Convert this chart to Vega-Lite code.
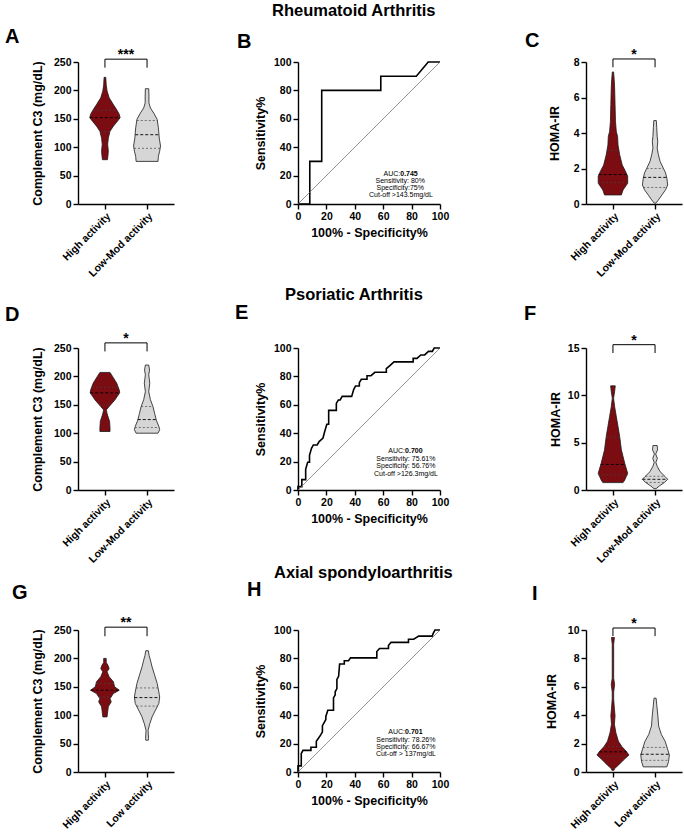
{
"$schema":"https://vega.github.io/schema/vega-lite/v6.json",
"background":"white",
"padding":{"left":5,"top":2,"right":2,"bottom":2},
"config":{
 "font":"Liberation Sans",
 "view":{"stroke":null},
 "axis":{"labelFont":"Liberation Sans","labelFontWeight":"bold","labelFontSize":10.5,"labelColor":"#000","titleFont":"Liberation Sans","titleFontWeight":"bold","titleFontSize":12.5,"titleColor":"#000","domainColor":"#000","domainWidth":1.4,"tickColor":"#000","tickWidth":1.4,"tickSize":5,"grid":false,"labelFlush":false,"labelOverlap":false,"labelPadding":2,"titlePadding":6},
 "title":{"font":"Liberation Sans","fontWeight":"bold","color":"#000"}
},
"datasets":{
"violin":[
{"p":"A","g":"High","v":78,"lo":0.94,"hi":1.06},{"p":"A","g":"High","v":84,"lo":0.93,"hi":1.07},{"p":"A","g":"High","v":93,"lo":0.92,"hi":1.08},{"p":"A","g":"High","v":105,"lo":0.935,"hi":1.065},{"p":"A","g":"High","v":116,"lo":0.92,"hi":1.08},{"p":"A","g":"High","v":128,"lo":0.88,"hi":1.12},{"p":"A","g":"High","v":137,"lo":0.8,"hi":1.2},{"p":"A","g":"High","v":146,"lo":0.7,"hi":1.3},{"p":"A","g":"High","v":152,"lo":0.64,"hi":1.36},{"p":"A","g":"High","v":158,"lo":0.66,"hi":1.34},{"p":"A","g":"High","v":166,"lo":0.72,"hi":1.28},{"p":"A","g":"High","v":175,"lo":0.8,"hi":1.2},{"p":"A","g":"High","v":187,"lo":0.9,"hi":1.1},{"p":"A","g":"High","v":199,"lo":0.95,"hi":1.05},{"p":"A","g":"High","v":210,"lo":0.97,"hi":1.03},{"p":"A","g":"High","v":223,"lo":0.98,"hi":1.02},
{"p":"A","g":"Low","v":75,"lo":1.74,"hi":2.26},{"p":"A","g":"Low","v":84,"lo":1.73,"hi":2.27},{"p":"A","g":"Low","v":93,"lo":1.7,"hi":2.3},{"p":"A","g":"Low","v":102,"lo":1.68,"hi":2.32},{"p":"A","g":"Low","v":116,"lo":1.71,"hi":2.29},{"p":"A","g":"Low","v":134,"lo":1.73,"hi":2.27},{"p":"A","g":"Low","v":149,"lo":1.76,"hi":2.24},{"p":"A","g":"Low","v":160,"lo":1.84,"hi":2.16},{"p":"A","g":"Low","v":169,"lo":1.92,"hi":2.08},{"p":"A","g":"Low","v":178,"lo":1.955,"hi":2.045},{"p":"A","g":"Low","v":190,"lo":1.955,"hi":2.045},{"p":"A","g":"Low","v":203,"lo":1.96,"hi":2.04},
{"p":"C","g":"High","v":0.51,"lo":0.8,"hi":1.2},{"p":"C","g":"High","v":0.79,"lo":0.76,"hi":1.24},{"p":"C","g":"High","v":1.17,"lo":0.65,"hi":1.35},{"p":"C","g":"High","v":1.56,"lo":0.65,"hi":1.35},{"p":"C","g":"High","v":1.83,"lo":0.7,"hi":1.3},{"p":"C","g":"High","v":2.2,"lo":0.78,"hi":1.22},{"p":"C","g":"High","v":2.77,"lo":0.84,"hi":1.16},{"p":"C","g":"High","v":3.33,"lo":0.88,"hi":1.12},{"p":"C","g":"High","v":3.8,"lo":0.89,"hi":1.11},{"p":"C","g":"High","v":4.08,"lo":0.92,"hi":1.08},{"p":"C","g":"High","v":4.65,"lo":0.94,"hi":1.06},{"p":"C","g":"High","v":5.6,"lo":0.95,"hi":1.05},{"p":"C","g":"High","v":6.53,"lo":0.96,"hi":1.04},{"p":"C","g":"High","v":7.0,"lo":0.97,"hi":1.03},{"p":"C","g":"High","v":7.44,"lo":0.985,"hi":1.015},
{"p":"C","g":"Low","v":0.05,"lo":1.98,"hi":2.02},{"p":"C","g":"Low","v":0.23,"lo":1.92,"hi":2.08},{"p":"C","g":"Low","v":0.5,"lo":1.84,"hi":2.16},{"p":"C","g":"Low","v":0.8,"lo":1.75,"hi":2.25},{"p":"C","g":"Low","v":1.07,"lo":1.7,"hi":2.3},{"p":"C","g":"Low","v":1.45,"lo":1.72,"hi":2.28},{"p":"C","g":"Low","v":1.75,"lo":1.75,"hi":2.25},{"p":"C","g":"Low","v":2.0,"lo":1.8,"hi":2.2},{"p":"C","g":"Low","v":2.4,"lo":1.88,"hi":2.12},{"p":"C","g":"Low","v":2.77,"lo":1.92,"hi":2.08},{"p":"C","g":"Low","v":3.15,"lo":1.95,"hi":2.05},{"p":"C","g":"Low","v":3.5,"lo":1.935,"hi":2.065},{"p":"C","g":"Low","v":3.82,"lo":1.95,"hi":2.05},{"p":"C","g":"Low","v":4.3,"lo":1.96,"hi":2.04},{"p":"C","g":"Low","v":4.7,"lo":1.97,"hi":2.03},
{"p":"D","g":"High","v":103,"lo":0.88,"hi":1.12},{"p":"D","g":"High","v":109,"lo":0.88,"hi":1.12},{"p":"D","g":"High","v":121,"lo":0.89,"hi":1.11},{"p":"D","g":"High","v":132,"lo":0.94,"hi":1.06},{"p":"D","g":"High","v":141,"lo":0.97,"hi":1.03},{"p":"D","g":"High","v":147,"lo":0.9,"hi":1.1},{"p":"D","g":"High","v":159,"lo":0.76,"hi":1.24},{"p":"D","g":"High","v":171,"lo":0.65,"hi":1.35},{"p":"D","g":"High","v":176,"lo":0.66,"hi":1.34},{"p":"D","g":"High","v":188,"lo":0.72,"hi":1.28},{"p":"D","g":"High","v":200,"lo":0.82,"hi":1.18},{"p":"D","g":"High","v":207,"lo":0.88,"hi":1.12},
{"p":"D","g":"Low","v":100,"lo":1.74,"hi":2.26},{"p":"D","g":"Low","v":106,"lo":1.7,"hi":2.3},{"p":"D","g":"Low","v":112,"lo":1.72,"hi":2.28},{"p":"D","g":"Low","v":123,"lo":1.78,"hi":2.22},{"p":"D","g":"Low","v":135,"lo":1.82,"hi":2.18},{"p":"D","g":"Low","v":147,"lo":1.86,"hi":2.14},{"p":"D","g":"Low","v":159,"lo":1.92,"hi":2.08},{"p":"D","g":"Low","v":173,"lo":1.96,"hi":2.04},{"p":"D","g":"Low","v":188,"lo":1.935,"hi":2.065},{"p":"D","g":"Low","v":203,"lo":1.96,"hi":2.04},{"p":"D","g":"Low","v":211,"lo":1.94,"hi":2.06},{"p":"D","g":"Low","v":220,"lo":1.96,"hi":2.04},
{"p":"F","g":"High","v":0.78,"lo":0.76,"hi":1.24},{"p":"F","g":"High","v":1.06,"lo":0.72,"hi":1.28},{"p":"F","g":"High","v":1.76,"lo":0.65,"hi":1.35},{"p":"F","g":"High","v":2.82,"lo":0.72,"hi":1.28},{"p":"F","g":"High","v":4.24,"lo":0.8,"hi":1.2},{"p":"F","g":"High","v":5.65,"lo":0.84,"hi":1.16},{"p":"F","g":"High","v":6.7,"lo":0.88,"hi":1.12},{"p":"F","g":"High","v":7.76,"lo":0.92,"hi":1.08},{"p":"F","g":"High","v":8.8,"lo":0.96,"hi":1.04},{"p":"F","g":"High","v":9.7,"lo":0.985,"hi":1.015},{"p":"F","g":"High","v":10.4,"lo":0.96,"hi":1.04},{"p":"F","g":"High","v":11.0,"lo":0.945,"hi":1.055},
{"p":"F","g":"Low","v":0.14,"lo":1.975,"hi":2.025},{"p":"F","g":"Low","v":0.42,"lo":1.9,"hi":2.1},{"p":"F","g":"Low","v":0.78,"lo":1.78,"hi":2.22},{"p":"F","g":"Low","v":1.13,"lo":1.7,"hi":2.3},{"p":"F","g":"Low","v":1.41,"lo":1.76,"hi":2.24},{"p":"F","g":"Low","v":1.94,"lo":1.88,"hi":2.12},{"p":"F","g":"Low","v":2.47,"lo":1.945,"hi":2.055},{"p":"F","g":"Low","v":2.9,"lo":1.98,"hi":2.02},{"p":"F","g":"Low","v":3.35,"lo":1.945,"hi":2.055},{"p":"F","g":"Low","v":3.8,"lo":1.985,"hi":2.015},{"p":"F","g":"Low","v":4.24,"lo":1.94,"hi":2.06},{"p":"F","g":"Low","v":4.7,"lo":1.95,"hi":2.05},
{"p":"G","g":"High","v":97,"lo":0.95,"hi":1.05},{"p":"G","g":"High","v":106,"lo":0.935,"hi":1.065},{"p":"G","g":"High","v":115,"lo":0.92,"hi":1.08},{"p":"G","g":"High","v":123.5,"lo":0.85,"hi":1.15},{"p":"G","g":"High","v":129,"lo":0.88,"hi":1.12},{"p":"G","g":"High","v":138,"lo":0.8,"hi":1.2},{"p":"G","g":"High","v":144,"lo":0.66,"hi":1.34},{"p":"G","g":"High","v":150,"lo":0.77,"hi":1.23},{"p":"G","g":"High","v":159,"lo":0.8,"hi":1.2},{"p":"G","g":"High","v":167.6,"lo":0.9,"hi":1.1},{"p":"G","g":"High","v":176.5,"lo":0.95,"hi":1.05},{"p":"G","g":"High","v":182,"lo":0.9,"hi":1.1},{"p":"G","g":"High","v":188,"lo":0.93,"hi":1.07},{"p":"G","g":"High","v":193,"lo":0.97,"hi":1.03},{"p":"G","g":"High","v":200,"lo":0.97,"hi":1.03},
{"p":"G","g":"Low","v":56,"lo":1.97,"hi":2.03},{"p":"G","g":"Low","v":59,"lo":1.965,"hi":2.035},{"p":"G","g":"Low","v":73.5,"lo":1.975,"hi":2.025},{"p":"G","g":"Low","v":85,"lo":1.935,"hi":2.065},{"p":"G","g":"Low","v":97,"lo":1.88,"hi":2.12},{"p":"G","g":"Low","v":109,"lo":1.8,"hi":2.2},{"p":"G","g":"Low","v":120.6,"lo":1.72,"hi":2.28},{"p":"G","g":"Low","v":132,"lo":1.7,"hi":2.3},{"p":"G","g":"Low","v":141,"lo":1.72,"hi":2.28},{"p":"G","g":"Low","v":156,"lo":1.76,"hi":2.24},{"p":"G","g":"Low","v":170.6,"lo":1.82,"hi":2.18},{"p":"G","g":"Low","v":185,"lo":1.88,"hi":2.12},{"p":"G","g":"Low","v":197,"lo":1.92,"hi":2.08},{"p":"G","g":"Low","v":205,"lo":1.95,"hi":2.05},{"p":"G","g":"Low","v":213.5,"lo":1.97,"hi":2.03},
{"p":"I","g":"High","v":0.12,"lo":0.975,"hi":1.025},{"p":"I","g":"High","v":0.24,"lo":0.96,"hi":1.04},{"p":"I","g":"High","v":0.48,"lo":0.87,"hi":1.13},{"p":"I","g":"High","v":0.84,"lo":0.75,"hi":1.25},{"p":"I","g":"High","v":1.2,"lo":0.62,"hi":1.38},{"p":"I","g":"High","v":1.44,"lo":0.68,"hi":1.32},{"p":"I","g":"High","v":1.8,"lo":0.79,"hi":1.21},{"p":"I","g":"High","v":2.16,"lo":0.87,"hi":1.13},{"p":"I","g":"High","v":2.76,"lo":0.93,"hi":1.07},{"p":"I","g":"High","v":3.36,"lo":0.965,"hi":1.035},{"p":"I","g":"High","v":3.96,"lo":0.95,"hi":1.05},{"p":"I","g":"High","v":4.44,"lo":0.965,"hi":1.035},{"p":"I","g":"High","v":5.16,"lo":0.983,"hi":1.017},{"p":"I","g":"High","v":5.64,"lo":0.983,"hi":1.017},{"p":"I","g":"High","v":6.16,"lo":0.96,"hi":1.04},{"p":"I","g":"High","v":6.6,"lo":0.983,"hi":1.017},{"p":"I","g":"High","v":8.0,"lo":0.983,"hi":1.017},{"p":"I","g":"High","v":9.0,"lo":0.983,"hi":1.017},{"p":"I","g":"High","v":9.47,"lo":0.965,"hi":1.035},
{"p":"I","g":"Low","v":0.36,"lo":1.72,"hi":2.28},{"p":"I","g":"Low","v":0.72,"lo":1.68,"hi":2.32},{"p":"I","g":"Low","v":1.2,"lo":1.66,"hi":2.34},{"p":"I","g":"Low","v":1.68,"lo":1.71,"hi":2.29},{"p":"I","g":"Low","v":2.16,"lo":1.76,"hi":2.24},{"p":"I","g":"Low","v":2.64,"lo":1.85,"hi":2.15},{"p":"I","g":"Low","v":3.24,"lo":1.915,"hi":2.085},{"p":"I","g":"Low","v":3.96,"lo":1.933,"hi":2.067},{"p":"I","g":"Low","v":4.68,"lo":1.958,"hi":2.042},{"p":"I","g":"Low","v":5.2,"lo":1.975,"hi":2.025}
],
"quart":[
{"p":"A","k":"q","v":127,"lo":0.885,"hi":1.115},{"p":"A","k":"m","v":152,"lo":0.64,"hi":1.36},{"p":"A","k":"q","v":165,"lo":0.715,"hi":1.285},{"p":"A","k":"q","v":98,"lo":1.69,"hi":2.31},{"p":"A","k":"m","v":122,"lo":1.72,"hi":2.28},{"p":"A","k":"q","v":147,"lo":1.755,"hi":2.245},
{"p":"C","k":"q","v":1.2,"lo":0.65,"hi":1.35},{"p":"C","k":"m","v":1.66,"lo":0.66,"hi":1.34},{"p":"C","k":"q","v":3.0,"lo":0.86,"hi":1.14},{"p":"C","k":"q","v":0.93,"lo":1.72,"hi":2.28},{"p":"C","k":"m","v":1.5,"lo":1.72,"hi":2.28},{"p":"C","k":"q","v":2.0,"lo":1.8,"hi":2.2},
{"p":"D","k":"q","v":150,"lo":0.86,"hi":1.14},{"p":"D","k":"m","v":171,"lo":0.65,"hi":1.35},{"p":"D","k":"q","v":181,"lo":0.69,"hi":1.31},{"p":"D","k":"q","v":110,"lo":1.71,"hi":2.29},{"p":"D","k":"m","v":124,"lo":1.78,"hi":2.22},{"p":"D","k":"q","v":147,"lo":1.86,"hi":2.14},
{"p":"F","k":"q","v":1.6,"lo":0.65,"hi":1.35},{"p":"F","k":"m","v":2.7,"lo":0.71,"hi":1.29},{"p":"F","k":"q","v":5.6,"lo":0.84,"hi":1.16},{"p":"F","k":"q","v":0.8,"lo":1.78,"hi":2.22},{"p":"F","k":"m","v":1.13,"lo":1.7,"hi":2.3},{"p":"F","k":"q","v":1.45,"lo":1.77,"hi":2.23},
{"p":"G","k":"q","v":132,"lo":0.86,"hi":1.14},{"p":"G","k":"m","v":144,"lo":0.66,"hi":1.34},{"p":"G","k":"q","v":156,"lo":0.79,"hi":1.21},{"p":"G","k":"q","v":116,"lo":1.75,"hi":2.25},{"p":"G","k":"m","v":131,"lo":1.7,"hi":2.3},{"p":"G","k":"q","v":148,"lo":1.74,"hi":2.26},
{"p":"I","k":"q","v":1.08,"lo":0.66,"hi":1.34},{"p":"I","k":"m","v":1.42,"lo":0.675,"hi":1.325},{"p":"I","k":"q","v":1.8,"lo":0.79,"hi":1.21},{"p":"I","k":"q","v":0.82,"lo":1.675,"hi":2.325},{"p":"I","k":"m","v":1.25,"lo":1.66,"hi":2.34},{"p":"I","k":"q","v":1.73,"lo":1.71,"hi":2.29}
],
"brk":[
{"p":"A","o":0,"bx":1,"by":240},{"p":"A","o":1,"bx":1,"by":255},{"p":"A","o":2,"bx":2,"by":255},{"p":"A","o":3,"bx":2,"by":240},
{"p":"C","o":0,"bx":1,"by":7.7},{"p":"C","o":1,"bx":1,"by":8.17},{"p":"C","o":2,"bx":2,"by":8.17},{"p":"C","o":3,"bx":2,"by":7.7},
{"p":"D","o":0,"bx":1,"by":244},{"p":"D","o":1,"bx":1,"by":259},{"p":"D","o":2,"bx":2,"by":259},{"p":"D","o":3,"bx":2,"by":244},
{"p":"F","o":0,"bx":1,"by":14.47},{"p":"F","o":1,"bx":1,"by":15.35},{"p":"F","o":2,"bx":2,"by":15.35},{"p":"F","o":3,"bx":2,"by":14.47},
{"p":"G","o":0,"bx":1,"by":239},{"p":"G","o":1,"bx":1,"by":255},{"p":"G","o":2,"bx":2,"by":255},{"p":"G","o":3,"bx":2,"by":239},
{"p":"I","o":0,"bx":1,"by":9.57},{"p":"I","o":1,"bx":1,"by":10.14},{"p":"I","o":2,"bx":2,"by":10.14},{"p":"I","o":3,"bx":2,"by":9.57}
],
"star":[
{"p":"A","sx":1.5,"sy":255,"t":"***"},{"p":"C","sx":1.5,"sy":8.17,"t":"*"},{"p":"D","sx":1.5,"sy":259,"t":"*"},{"p":"F","sx":1.5,"sy":15.35,"t":"*"},{"p":"G","sx":1.5,"sy":255,"t":"**"},{"p":"I","sx":1.5,"sy":10.14,"t":"*"}
],
"roc":[
{"p":"B","o":0,"fx":0,"se":0},{"p":"B","o":1,"fx":8.3,"se":0},{"p":"B","o":2,"fx":8.3,"se":30},{"p":"B","o":3,"fx":16.7,"se":30},{"p":"B","o":4,"fx":16.7,"se":80},{"p":"B","o":5,"fx":58.3,"se":80},{"p":"B","o":6,"fx":58.3,"se":90},{"p":"B","o":7,"fx":83.3,"se":90},{"p":"B","o":8,"fx":91.7,"se":100},{"p":"B","o":9,"fx":100,"se":100},
{"p":"E","o":0,"fx":0,"se":0},{"p":"E","o":1,"fx":0,"se":2.4},{"p":"E","o":2,"fx":2.7,"se":2.4},{"p":"E","o":3,"fx":2.7,"se":7.3},{"p":"E","o":4,"fx":5.4,"se":7.3},{"p":"E","o":5,"fx":5.4,"se":14.6},{"p":"E","o":6,"fx":6.8,"se":19.5},{"p":"E","o":7,"fx":8.1,"se":19.5},{"p":"E","o":8,"fx":8.1,"se":24.4},{"p":"E","o":9,"fx":9.5,"se":29.3},{"p":"E","o":10,"fx":10.8,"se":31.7},{"p":"E","o":11,"fx":13.5,"se":31.7},{"p":"E","o":12,"fx":14.9,"se":34.1},{"p":"E","o":13,"fx":17.6,"se":36.6},{"p":"E","o":14,"fx":18.9,"se":41.5},{"p":"E","o":15,"fx":20.3,"se":46.3},{"p":"E","o":16,"fx":21.6,"se":46.3},{"p":"E","o":17,"fx":21.6,"se":56.1},{"p":"E","o":18,"fx":27,"se":56.1},{"p":"E","o":19,"fx":27,"se":61},{"p":"E","o":20,"fx":28.4,"se":63.4},{"p":"E","o":21,"fx":29.7,"se":63.4},{"p":"E","o":22,"fx":31.1,"se":65.9},{"p":"E","o":23,"fx":37.8,"se":65.9},{"p":"E","o":24,"fx":39.2,"se":70.7},{"p":"E","o":25,"fx":40.5,"se":73.2},{"p":"E","o":26,"fx":43.2,"se":73.2},{"p":"E","o":27,"fx":43.2,"se":75.6},{"p":"E","o":28,"fx":44.6,"se":78},{"p":"E","o":29,"fx":48.6,"se":78},{"p":"E","o":30,"fx":48.6,"se":80.5},{"p":"E","o":31,"fx":51.4,"se":80.5},{"p":"E","o":32,"fx":54.1,"se":82.9},{"p":"E","o":33,"fx":62.2,"se":82.9},{"p":"E","o":34,"fx":62.2,"se":85.4},{"p":"E","o":35,"fx":64.9,"se":87.8},{"p":"E","o":36,"fx":67.6,"se":90.2},{"p":"E","o":37,"fx":81.1,"se":90.2},{"p":"E","o":38,"fx":81.1,"se":92.7},{"p":"E","o":39,"fx":83.8,"se":92.7},{"p":"E","o":40,"fx":86.5,"se":95.1},{"p":"E","o":41,"fx":89.2,"se":95.1},{"p":"E","o":42,"fx":91.9,"se":97.6},{"p":"E","o":43,"fx":94.6,"se":97.6},{"p":"E","o":44,"fx":95.9,"se":100},{"p":"E","o":45,"fx":100,"se":100},
{"p":"H","o":0,"fx":0,"se":0},{"p":"H","o":1,"fx":0,"se":4.3},{"p":"H","o":2,"fx":2.3,"se":4.3},{"p":"H","o":3,"fx":2.3,"se":13},{"p":"H","o":4,"fx":3.5,"se":15.2},{"p":"H","o":5,"fx":9.1,"se":15.2},{"p":"H","o":6,"fx":9.1,"se":17.4},{"p":"H","o":7,"fx":12.9,"se":17.4},{"p":"H","o":8,"fx":12.9,"se":21.7},{"p":"H","o":9,"fx":14.5,"se":23.9},{"p":"H","o":10,"fx":16,"se":26.1},{"p":"H","o":11,"fx":17.2,"se":28.3},{"p":"H","o":12,"fx":17.2,"se":32.6},{"p":"H","o":13,"fx":18.4,"se":34.8},{"p":"H","o":14,"fx":19.6,"se":37},{"p":"H","o":15,"fx":19.6,"se":39.1},{"p":"H","o":16,"fx":21,"se":43.5},{"p":"H","o":17,"fx":25,"se":43.5},{"p":"H","o":18,"fx":25,"se":52.2},{"p":"H","o":19,"fx":26.2,"se":54.3},{"p":"H","o":20,"fx":26.2,"se":56.5},{"p":"H","o":21,"fx":27.4,"se":58.7},{"p":"H","o":22,"fx":27.4,"se":65.2},{"p":"H","o":23,"fx":28.6,"se":67.4},{"p":"H","o":24,"fx":29.3,"se":76.1},{"p":"H","o":25,"fx":32.6,"se":76.1},{"p":"H","o":26,"fx":32.6,"se":78.3},{"p":"H","o":27,"fx":35.6,"se":78.3},{"p":"H","o":28,"fx":37,"se":80.4},{"p":"H","o":29,"fx":55.5,"se":80.4},{"p":"H","o":30,"fx":55.5,"se":84.8},{"p":"H","o":31,"fx":57.4,"se":87},{"p":"H","o":32,"fx":63.7,"se":87},{"p":"H","o":33,"fx":63.7,"se":89.1},{"p":"H","o":34,"fx":65.5,"se":91.3},{"p":"H","o":35,"fx":77.8,"se":91.3},{"p":"H","o":36,"fx":77.8,"se":93.5},{"p":"H","o":37,"fx":81.5,"se":93.5},{"p":"H","o":38,"fx":85,"se":95.7},{"p":"H","o":39,"fx":94.5,"se":95.7},{"p":"H","o":40,"fx":95.3,"se":97.8},{"p":"H","o":41,"fx":96.5,"se":100},{"p":"H","o":42,"fx":100,"se":100}
],
"ann":[
{"p":"B","k":"l","t":"AUC:","ax":72,"ay":21.1},{"p":"B","k":"r","t":"0.745","ax":72,"ay":21.1},{"p":"B","k":"n","t":"Sensitivity: 80%","ax":72,"ay":16},{"p":"B","k":"n","t":"Specificity:75%","ax":72,"ay":11.3},{"p":"B","k":"n","t":"Cut-off >143.5mg/dL","ax":72.5,"ay":6.6},
{"p":"E","k":"l","t":"AUC:","ax":75.4,"ay":27.4},{"p":"E","k":"r","t":"0.700","ax":75.4,"ay":27.4},{"p":"E","k":"n","t":"Sensitivity: 75.61%","ax":76,"ay":22.1},{"p":"E","k":"n","t":"Specificity: 56.76%","ax":76,"ay":17},{"p":"E","k":"n","t":"Cut-off >126.3mg/dL","ax":76,"ay":11.6},
{"p":"H","k":"l","t":"AUC:","ax":75.4,"ay":27.9},{"p":"H","k":"r","t":"0.701","ax":75.4,"ay":27.9},{"p":"H","k":"n","t":"Sensitivity: 78.26%","ax":76,"ay":22.7},{"p":"H","k":"n","t":"Specificity: 66.67%","ax":76,"ay":17.6},{"p":"H","k":"n","t":"Cut-off > 137mg/dL","ax":76,"ay":12.9}
]
},
"spacing":-1,
"vconcat":[
{"spacing":7,"vconcat":[
{"title":{"text":"Rheumatoid Arthritis","fontSize":16.5,"anchor":"start","frame":"group","dx":194,"offset":8},"bounds":"flush","spacing":124,
 "hconcat":[
  {"width":96,"height":142,"title":{"text":"A","anchor":"start","frame":"group","dx":-73,"offset":1,"fontSize":20},
   "layer":[
    {"data":{"name":"violin"},"transform":[{"filter":"datum.p=='A'"}],"mark":{"type":"area","orient":"horizontal","stroke":"#1a1a1a","strokeWidth":0.8},
     "encoding":{"y":{"field":"v","type":"quantitative","title":"Complement C3 (mg/dL)","scale":{"domain":[0,250],"nice":false},"axis":{"values":[0,50,100,150,200,250],"tickCount":12,"format":"d","labelOverlap":false,"titlePadding":9}},
      "x":{"field":"lo","type":"quantitative","title":null,"scale":{"domain":[0.36,2.64],"nice":false,"zero":false},"axis":{"values":[1,2],"tickCount":12,"labelOverlap":false,"labelAngle":-45,"labelExpr":"datum.value == 1 ? 'High activity' : 'Low-Mod activity'"}},
      "x2":{"field":"hi"},"color":{"field":"g","type":"nominal","scale":{"domain":["High","Low"],"range":["#7b0c12","#d6d6d6"]},"legend":null}}},
    {"data":{"name":"quart"},"transform":[{"filter":"datum.p=='A' && datum.k=='q'"}],"mark":{"type":"rule","color":"#444","strokeWidth":0.7,"strokeDash":[2,2]},
     "encoding":{"y":{"field":"v","type":"quantitative","title":"Complement C3 (mg/dL)"},"x":{"field":"lo","type":"quantitative","title":null},"x2":{"field":"hi"}}},
    {"data":{"name":"quart"},"transform":[{"filter":"datum.p=='A' && datum.k=='m'"}],"mark":{"type":"rule","color":"#000","strokeWidth":0.9,"strokeDash":[3,2]},
     "encoding":{"y":{"field":"v","type":"quantitative","title":"Complement C3 (mg/dL)"},"x":{"field":"lo","type":"quantitative","title":null},"x2":{"field":"hi"}}},
    {"data":{"name":"brk"},"transform":[{"filter":"datum.p=='A'"}],"mark":{"type":"line","color":"#000","strokeWidth":1},
     "encoding":{"y":{"field":"by","type":"quantitative","title":"Complement C3 (mg/dL)"},"x":{"field":"bx","type":"quantitative","title":null},"order":{"field":"o","type":"quantitative"}}},
    {"data":{"name":"star"},"transform":[{"filter":"datum.p=='A'"}],"mark":{"type":"text","fontSize":14,"fontWeight":"bold","baseline":"alphabetic","align":"center","color":"#000"},
     "encoding":{"y":{"field":"sy","type":"quantitative","title":"Complement C3 (mg/dL)"},"x":{"field":"sx","type":"quantitative","title":null},"text":{"field":"t"}}}
   ]},
  {"bounds":"flush","spacing":146,"hconcat":[
   {"width":142,"height":142,"title":{"text":"B","anchor":"start","frame":"group","dx":-61,"offset":5,"fontSize":20},
    "layer":[
     {"data":{"name":"roc"},"transform":[{"filter":"datum.p=='B'"}],"mark":{"type":"line","color":"#000","strokeWidth":1.6},
      "encoding":{"x":{"field":"fx","type":"quantitative","title":"100% - Specificity%","scale":{"domain":[0,100],"nice":false},"axis":{"values":[0,20,40,60,80,100],"tickCount":12,"format":"d","labelOverlap":false,"titlePadding":5}},
       "y":{"field":"se","type":"quantitative","title":"Sensitivity%","scale":{"domain":[0,100],"nice":false},"axis":{"values":[0,20,40,60,80,100],"tickCount":12,"format":"d","labelOverlap":false,"titlePadding":6}},
       "order":{"field":"o","type":"quantitative"}}},
     {"data":{"values":[{}]},"mark":{"type":"rule","color":"#666","strokeWidth":0.7},
      "encoding":{"x":{"datum":0,"type":"quantitative","title":"100% - Specificity%"},"y":{"datum":0,"type":"quantitative","title":"Sensitivity%"},"x2":{"datum":100},"y2":{"datum":100}}},
     {"data":{"name":"ann"},"transform":[{"filter":"datum.p=='B' && datum.k=='n'"}],"mark":{"type":"text","font":"Liberation Sans Narrow, Liberation Sans","fontSize":7,"align":"center","baseline":"middle","color":"#000"},
      "encoding":{"x":{"field":"ax","type":"quantitative","title":"100% - Specificity%"},"y":{"field":"ay","type":"quantitative","title":"Sensitivity%"},"text":{"field":"t"}}},
     {"data":{"name":"ann"},"transform":[{"filter":"datum.p=='B' && datum.k=='l'"}],"mark":{"type":"text","font":"Liberation Sans Narrow, Liberation Sans","fontSize":7,"align":"right","baseline":"middle","color":"#000"},
      "encoding":{"x":{"field":"ax","type":"quantitative","title":"100% - Specificity%"},"y":{"field":"ay","type":"quantitative","title":"Sensitivity%"},"text":{"field":"t"}}},
     {"data":{"name":"ann"},"transform":[{"filter":"datum.p=='B' && datum.k=='r'"}],"mark":{"type":"text","font":"Liberation Sans Narrow, Liberation Sans","fontSize":7,"fontWeight":"bold","align":"left","baseline":"middle","color":"#000"},
      "encoding":{"x":{"field":"ax","type":"quantitative","title":"100% - Specificity%"},"y":{"field":"ay","type":"quantitative","title":"Sensitivity%"},"text":{"field":"t"}}}
    ]},
   {"width":96,"height":142,"title":{"text":"C","anchor":"start","frame":"group","dx":-61,"offset":-3,"fontSize":20},
    "layer":[
     {"data":{"name":"violin"},"transform":[{"filter":"datum.p=='C'"}],"mark":{"type":"area","orient":"horizontal","stroke":"#1a1a1a","strokeWidth":0.8},
      "encoding":{"y":{"field":"v","type":"quantitative","title":"HOMA-IR","scale":{"domain":[0,8],"nice":false},"axis":{"values":[0,2,4,6,8],"tickCount":12,"format":"d","labelOverlap":false,"titlePadding":12}},
       "x":{"field":"lo","type":"quantitative","title":null,"scale":{"domain":[0.36,2.64],"nice":false,"zero":false},"axis":{"values":[1,2],"tickCount":12,"labelOverlap":false,"labelAngle":-45,"labelExpr":"datum.value == 1 ? 'High activity' : 'Low-Mod activity'"}},
       "x2":{"field":"hi"},"color":{"field":"g","type":"nominal","scale":{"domain":["High","Low"],"range":["#7b0c12","#d6d6d6"]},"legend":null}}},
     {"data":{"name":"quart"},"transform":[{"filter":"datum.p=='C' && datum.k=='q'"}],"mark":{"type":"rule","color":"#444","strokeWidth":0.7,"strokeDash":[2,2]},
      "encoding":{"y":{"field":"v","type":"quantitative","title":"HOMA-IR"},"x":{"field":"lo","type":"quantitative","title":null},"x2":{"field":"hi"}}},
     {"data":{"name":"quart"},"transform":[{"filter":"datum.p=='C' && datum.k=='m'"}],"mark":{"type":"rule","color":"#000","strokeWidth":0.9,"strokeDash":[3,2]},
      "encoding":{"y":{"field":"v","type":"quantitative","title":"HOMA-IR"},"x":{"field":"lo","type":"quantitative","title":null},"x2":{"field":"hi"}}},
     {"data":{"name":"brk"},"transform":[{"filter":"datum.p=='C'"}],"mark":{"type":"line","color":"#000","strokeWidth":1},
      "encoding":{"y":{"field":"by","type":"quantitative","title":"HOMA-IR"},"x":{"field":"bx","type":"quantitative","title":null},"order":{"field":"o","type":"quantitative"}}},
     {"data":{"name":"star"},"transform":[{"filter":"datum.p=='C'"}],"mark":{"type":"text","fontSize":14,"fontWeight":"bold","baseline":"alphabetic","align":"center","color":"#000"},
      "encoding":{"y":{"field":"sy","type":"quantitative","title":"HOMA-IR"},"x":{"field":"sx","type":"quantitative","title":null},"text":{"field":"t"}}}
    ]}
  ]}
 ]},
{"title":{"text":"Psoriatic Arthritis","fontSize":16.5,"anchor":"start","frame":"group","dx":207,"offset":0},"bounds":"flush","spacing":124,
 "hconcat":[
  {"width":96,"height":142,"title":{"text":"D","anchor":"start","frame":"group","dx":-73,"offset":7,"fontSize":20},
   "layer":[
    {"data":{"name":"violin"},"transform":[{"filter":"datum.p=='D'"}],"mark":{"type":"area","orient":"horizontal","stroke":"#1a1a1a","strokeWidth":0.8},
     "encoding":{"y":{"field":"v","type":"quantitative","title":"Complement C3 (mg/dL)","scale":{"domain":[0,250],"nice":false},"axis":{"values":[0,50,100,150,200,250],"tickCount":12,"format":"d","labelOverlap":false,"titlePadding":9}},
      "x":{"field":"lo","type":"quantitative","title":null,"scale":{"domain":[0.36,2.64],"nice":false,"zero":false},"axis":{"values":[1,2],"tickCount":12,"labelOverlap":false,"labelAngle":-45,"labelExpr":"datum.value == 1 ? 'High activity' : 'Low-Mod activity'"}},
      "x2":{"field":"hi"},"color":{"field":"g","type":"nominal","scale":{"domain":["High","Low"],"range":["#7b0c12","#d6d6d6"]},"legend":null}}},
    {"data":{"name":"quart"},"transform":[{"filter":"datum.p=='D' && datum.k=='q'"}],"mark":{"type":"rule","color":"#444","strokeWidth":0.7,"strokeDash":[2,2]},
     "encoding":{"y":{"field":"v","type":"quantitative","title":"Complement C3 (mg/dL)"},"x":{"field":"lo","type":"quantitative","title":null},"x2":{"field":"hi"}}},
    {"data":{"name":"quart"},"transform":[{"filter":"datum.p=='D' && datum.k=='m'"}],"mark":{"type":"rule","color":"#000","strokeWidth":0.9,"strokeDash":[3,2]},
     "encoding":{"y":{"field":"v","type":"quantitative","title":"Complement C3 (mg/dL)"},"x":{"field":"lo","type":"quantitative","title":null},"x2":{"field":"hi"}}},
    {"data":{"name":"brk"},"transform":[{"filter":"datum.p=='D'"}],"mark":{"type":"line","color":"#000","strokeWidth":1},
     "encoding":{"y":{"field":"by","type":"quantitative","title":"Complement C3 (mg/dL)"},"x":{"field":"bx","type":"quantitative","title":null},"order":{"field":"o","type":"quantitative"}}},
    {"data":{"name":"star"},"transform":[{"filter":"datum.p=='D'"}],"mark":{"type":"text","fontSize":14,"fontWeight":"bold","baseline":"alphabetic","align":"center","color":"#000"},
     "encoding":{"y":{"field":"sy","type":"quantitative","title":"Complement C3 (mg/dL)"},"x":{"field":"sx","type":"quantitative","title":null},"text":{"field":"t"}}}
   ]},
  {"bounds":"flush","spacing":146,"hconcat":[
   {"width":142,"height":142,"title":{"text":"E","anchor":"start","frame":"group","dx":-63,"offset":20,"fontSize":20},
    "layer":[
     {"data":{"name":"roc"},"transform":[{"filter":"datum.p=='E'"}],"mark":{"type":"line","color":"#000","strokeWidth":1.6},
      "encoding":{"x":{"field":"fx","type":"quantitative","title":"100% - Specificity%","scale":{"domain":[0,100],"nice":false},"axis":{"values":[0,20,40,60,80,100],"tickCount":12,"format":"d","labelOverlap":false,"titlePadding":5}},
       "y":{"field":"se","type":"quantitative","title":"Sensitivity%","scale":{"domain":[0,100],"nice":false},"axis":{"values":[0,20,40,60,80,100],"tickCount":12,"format":"d","labelOverlap":false,"titlePadding":6}},
       "order":{"field":"o","type":"quantitative"}}},
     {"data":{"values":[{}]},"mark":{"type":"rule","color":"#666","strokeWidth":0.7},
      "encoding":{"x":{"datum":0,"type":"quantitative","title":"100% - Specificity%"},"y":{"datum":0,"type":"quantitative","title":"Sensitivity%"},"x2":{"datum":100},"y2":{"datum":100}}},
     {"data":{"name":"ann"},"transform":[{"filter":"datum.p=='E' && datum.k=='n'"}],"mark":{"type":"text","font":"Liberation Sans Narrow, Liberation Sans","fontSize":7,"align":"center","baseline":"middle","color":"#000"},
      "encoding":{"x":{"field":"ax","type":"quantitative","title":"100% - Specificity%"},"y":{"field":"ay","type":"quantitative","title":"Sensitivity%"},"text":{"field":"t"}}},
     {"data":{"name":"ann"},"transform":[{"filter":"datum.p=='E' && datum.k=='l'"}],"mark":{"type":"text","font":"Liberation Sans Narrow, Liberation Sans","fontSize":7,"align":"right","baseline":"middle","color":"#000"},
      "encoding":{"x":{"field":"ax","type":"quantitative","title":"100% - Specificity%"},"y":{"field":"ay","type":"quantitative","title":"Sensitivity%"},"text":{"field":"t"}}},
     {"data":{"name":"ann"},"transform":[{"filter":"datum.p=='E' && datum.k=='r'"}],"mark":{"type":"text","font":"Liberation Sans Narrow, Liberation Sans","fontSize":7,"fontWeight":"bold","align":"left","baseline":"middle","color":"#000"},
      "encoding":{"x":{"field":"ax","type":"quantitative","title":"100% - Specificity%"},"y":{"field":"ay","type":"quantitative","title":"Sensitivity%"},"text":{"field":"t"}}}
    ]},
   {"width":96,"height":142,"title":{"text":"F","anchor":"start","frame":"group","dx":-62,"offset":10,"fontSize":20},
    "layer":[
     {"data":{"name":"violin"},"transform":[{"filter":"datum.p=='F'"}],"mark":{"type":"area","orient":"horizontal","stroke":"#1a1a1a","strokeWidth":0.8},
      "encoding":{"y":{"field":"v","type":"quantitative","title":"HOMA-IR","scale":{"domain":[0,15],"nice":false},"axis":{"values":[0,5,10,15],"tickCount":12,"format":"d","labelOverlap":false,"titlePadding":5}},
       "x":{"field":"lo","type":"quantitative","title":null,"scale":{"domain":[0.36,2.64],"nice":false,"zero":false},"axis":{"values":[1,2],"tickCount":12,"labelOverlap":false,"labelAngle":-45,"labelExpr":"datum.value == 1 ? 'High activity' : 'Low-Mod activity'"}},
       "x2":{"field":"hi"},"color":{"field":"g","type":"nominal","scale":{"domain":["High","Low"],"range":["#7b0c12","#d6d6d6"]},"legend":null}}},
     {"data":{"name":"quart"},"transform":[{"filter":"datum.p=='F' && datum.k=='q'"}],"mark":{"type":"rule","color":"#444","strokeWidth":0.7,"strokeDash":[2,2]},
      "encoding":{"y":{"field":"v","type":"quantitative","title":"HOMA-IR"},"x":{"field":"lo","type":"quantitative","title":null},"x2":{"field":"hi"}}},
     {"data":{"name":"quart"},"transform":[{"filter":"datum.p=='F' && datum.k=='m'"}],"mark":{"type":"rule","color":"#000","strokeWidth":0.9,"strokeDash":[3,2]},
      "encoding":{"y":{"field":"v","type":"quantitative","title":"HOMA-IR"},"x":{"field":"lo","type":"quantitative","title":null},"x2":{"field":"hi"}}},
     {"data":{"name":"brk"},"transform":[{"filter":"datum.p=='F'"}],"mark":{"type":"line","color":"#000","strokeWidth":1},
      "encoding":{"y":{"field":"by","type":"quantitative","title":"HOMA-IR"},"x":{"field":"bx","type":"quantitative","title":null},"order":{"field":"o","type":"quantitative"}}},
     {"data":{"name":"star"},"transform":[{"filter":"datum.p=='F'"}],"mark":{"type":"text","fontSize":14,"fontWeight":"bold","baseline":"alphabetic","align":"center","color":"#000"},
      "encoding":{"y":{"field":"sy","type":"quantitative","title":"HOMA-IR"},"x":{"field":"sx","type":"quantitative","title":null},"text":{"field":"t"}}}
    ]}
  ]}
 ]}
]},
{"title":{"text":"Axial spondyloarthritis","fontSize":16.5,"anchor":"start","frame":"group","dx":196,"offset":-1},"bounds":"flush","spacing":124,
 "hconcat":[
  {"width":96,"height":142,"title":{"text":"G","anchor":"start","frame":"group","dx":-66,"offset":13,"fontSize":20},
   "layer":[
    {"data":{"name":"violin"},"transform":[{"filter":"datum.p=='G'"}],"mark":{"type":"area","orient":"horizontal","stroke":"#1a1a1a","strokeWidth":0.8},
     "encoding":{"y":{"field":"v","type":"quantitative","title":"Complement C3 (mg/dL)","scale":{"domain":[0,250],"nice":false},"axis":{"values":[0,50,100,150,200,250],"tickCount":12,"format":"d","labelOverlap":false,"titlePadding":9}},
      "x":{"field":"lo","type":"quantitative","title":null,"scale":{"domain":[0.36,2.64],"nice":false,"zero":false},"axis":{"values":[1,2],"tickCount":12,"labelOverlap":false,"labelAngle":-45,"labelExpr":"datum.value == 1 ? 'High activity' : 'Low activity'"}},
      "x2":{"field":"hi"},"color":{"field":"g","type":"nominal","scale":{"domain":["High","Low"],"range":["#7b0c12","#d6d6d6"]},"legend":null}}},
    {"data":{"name":"quart"},"transform":[{"filter":"datum.p=='G' && datum.k=='q'"}],"mark":{"type":"rule","color":"#444","strokeWidth":0.7,"strokeDash":[2,2]},
     "encoding":{"y":{"field":"v","type":"quantitative","title":"Complement C3 (mg/dL)"},"x":{"field":"lo","type":"quantitative","title":null},"x2":{"field":"hi"}}},
    {"data":{"name":"quart"},"transform":[{"filter":"datum.p=='G' && datum.k=='m'"}],"mark":{"type":"rule","color":"#000","strokeWidth":0.9,"strokeDash":[3,2]},
     "encoding":{"y":{"field":"v","type":"quantitative","title":"Complement C3 (mg/dL)"},"x":{"field":"lo","type":"quantitative","title":null},"x2":{"field":"hi"}}},
    {"data":{"name":"brk"},"transform":[{"filter":"datum.p=='G'"}],"mark":{"type":"line","color":"#000","strokeWidth":1},
     "encoding":{"y":{"field":"by","type":"quantitative","title":"Complement C3 (mg/dL)"},"x":{"field":"bx","type":"quantitative","title":null},"order":{"field":"o","type":"quantitative"}}},
    {"data":{"name":"star"},"transform":[{"filter":"datum.p=='G'"}],"mark":{"type":"text","fontSize":14,"fontWeight":"bold","baseline":"alphabetic","align":"center","color":"#000"},
     "encoding":{"y":{"field":"sy","type":"quantitative","title":"Complement C3 (mg/dL)"},"x":{"field":"sx","type":"quantitative","title":null},"text":{"field":"t"}}}
   ]},
  {"bounds":"flush","spacing":146,"hconcat":[
   {"width":142,"height":142,"title":{"text":"H","anchor":"start","frame":"group","dx":-51,"offset":25,"fontSize":20},
    "layer":[
     {"data":{"name":"roc"},"transform":[{"filter":"datum.p=='H'"}],"mark":{"type":"line","color":"#000","strokeWidth":1.6},
      "encoding":{"x":{"field":"fx","type":"quantitative","title":"100% - Specificity%","scale":{"domain":[0,100],"nice":false},"axis":{"values":[0,20,40,60,80,100],"tickCount":12,"format":"d","labelOverlap":false,"titlePadding":5}},
       "y":{"field":"se","type":"quantitative","title":"Sensitivity%","scale":{"domain":[0,100],"nice":false},"axis":{"values":[0,20,40,60,80,100],"tickCount":12,"format":"d","labelOverlap":false,"titlePadding":6}},
       "order":{"field":"o","type":"quantitative"}}},
     {"data":{"values":[{}]},"mark":{"type":"rule","color":"#666","strokeWidth":0.7},
      "encoding":{"x":{"datum":0,"type":"quantitative","title":"100% - Specificity%"},"y":{"datum":0,"type":"quantitative","title":"Sensitivity%"},"x2":{"datum":100},"y2":{"datum":100}}},
     {"data":{"name":"ann"},"transform":[{"filter":"datum.p=='H' && datum.k=='n'"}],"mark":{"type":"text","font":"Liberation Sans Narrow, Liberation Sans","fontSize":7,"align":"center","baseline":"middle","color":"#000"},
      "encoding":{"x":{"field":"ax","type":"quantitative","title":"100% - Specificity%"},"y":{"field":"ay","type":"quantitative","title":"Sensitivity%"},"text":{"field":"t"}}},
     {"data":{"name":"ann"},"transform":[{"filter":"datum.p=='H' && datum.k=='l'"}],"mark":{"type":"text","font":"Liberation Sans Narrow, Liberation Sans","fontSize":7,"align":"right","baseline":"middle","color":"#000"},
      "encoding":{"x":{"field":"ax","type":"quantitative","title":"100% - Specificity%"},"y":{"field":"ay","type":"quantitative","title":"Sensitivity%"},"text":{"field":"t"}}},
     {"data":{"name":"ann"},"transform":[{"filter":"datum.p=='H' && datum.k=='r'"}],"mark":{"type":"text","font":"Liberation Sans Narrow, Liberation Sans","fontSize":7,"fontWeight":"bold","align":"left","baseline":"middle","color":"#000"},
      "encoding":{"x":{"field":"ax","type":"quantitative","title":"100% - Specificity%"},"y":{"field":"ay","type":"quantitative","title":"Sensitivity%"},"text":{"field":"t"}}}
    ]},
   {"width":96,"height":142,"title":{"text":"I","anchor":"start","frame":"group","dx":-54,"offset":13,"fontSize":20},
    "layer":[
     {"data":{"name":"violin"},"transform":[{"filter":"datum.p=='I'"}],"mark":{"type":"area","orient":"horizontal","stroke":"#1a1a1a","strokeWidth":0.8},
      "encoding":{"y":{"field":"v","type":"quantitative","title":"HOMA-IR","scale":{"domain":[0,10],"nice":false},"axis":{"values":[0,2,4,6,8,10],"tickCount":12,"format":"d","labelOverlap":false,"titlePadding":9}},
       "x":{"field":"lo","type":"quantitative","title":null,"scale":{"domain":[0.36,2.64],"nice":false,"zero":false},"axis":{"values":[1,2],"tickCount":12,"labelOverlap":false,"labelAngle":-45,"labelExpr":"datum.value == 1 ? 'High activity' : 'Low activity'"}},
       "x2":{"field":"hi"},"color":{"field":"g","type":"nominal","scale":{"domain":["High","Low"],"range":["#7b0c12","#d6d6d6"]},"legend":null}}},
     {"data":{"name":"quart"},"transform":[{"filter":"datum.p=='I' && datum.k=='q'"}],"mark":{"type":"rule","color":"#444","strokeWidth":0.7,"strokeDash":[2,2]},
      "encoding":{"y":{"field":"v","type":"quantitative","title":"HOMA-IR"},"x":{"field":"lo","type":"quantitative","title":null},"x2":{"field":"hi"}}},
     {"data":{"name":"quart"},"transform":[{"filter":"datum.p=='I' && datum.k=='m'"}],"mark":{"type":"rule","color":"#000","strokeWidth":0.9,"strokeDash":[3,2]},
      "encoding":{"y":{"field":"v","type":"quantitative","title":"HOMA-IR"},"x":{"field":"lo","type":"quantitative","title":null},"x2":{"field":"hi"}}},
     {"data":{"name":"brk"},"transform":[{"filter":"datum.p=='I'"}],"mark":{"type":"line","color":"#000","strokeWidth":1},
      "encoding":{"y":{"field":"by","type":"quantitative","title":"HOMA-IR"},"x":{"field":"bx","type":"quantitative","title":null},"order":{"field":"o","type":"quantitative"}}},
     {"data":{"name":"star"},"transform":[{"filter":"datum.p=='I'"}],"mark":{"type":"text","fontSize":14,"fontWeight":"bold","baseline":"alphabetic","align":"center","color":"#000"},
      "encoding":{"y":{"field":"sy","type":"quantitative","title":"HOMA-IR"},"x":{"field":"sx","type":"quantitative","title":null},"text":{"field":"t"}}}
    ]}
  ]}
 ]}
]
}
